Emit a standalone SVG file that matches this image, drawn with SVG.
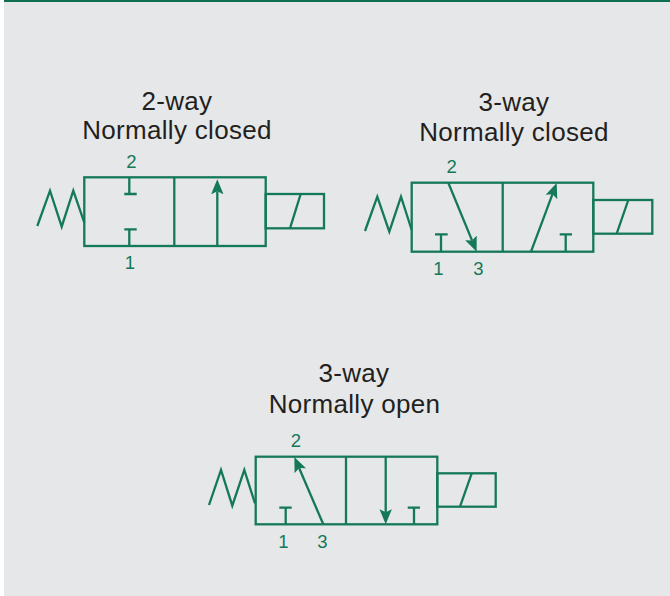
<svg xmlns="http://www.w3.org/2000/svg" width="670" height="596" viewBox="0 0 670 596">
  <style>
    .ln { fill: none; stroke: #14785a; stroke-width: 2.3; stroke-linejoin: miter; stroke-linecap: butt; }
    .title { font-family: "Liberation Sans", Arial, sans-serif; font-size: 26px; fill: #231f20; text-anchor: middle; letter-spacing: 0.3px; }
    .port { font-family: "Liberation Sans", Arial, sans-serif; font-size: 18.5px; fill: #14785a; text-anchor: middle; }
  </style>
  <defs>
    <marker id="ah" markerUnits="userSpaceOnUse" markerWidth="16" markerHeight="14" refX="3" refY="7" orient="auto" viewBox="0 0 16 14">
      <path d="M15,7 L0,0.8 L3,7 L0,13.2 Z" fill="#14785a"/>
    </marker>
  </defs>
  <rect x="0" y="0" width="670" height="596" fill="#ffffff"/>
  <rect x="4" y="0" width="666" height="596" fill="#e6e7e8"/>
  <rect x="4" y="0" width="666" height="2" fill="#0f6e50"/>

  <g id="valve-2way-nc">
    <text class="title" x="177" y="110">2-way</text>
    <text class="title" x="177" y="139">Normally closed</text>
    <polyline class="ln" points="37.3,226 50,190.7 61.7,226.7 73.3,190.7 84.3,222.7"/>
    <rect class="ln" x="84.3" y="177.3" width="181.4" height="68.7"/>
    <line class="ln" x1="174.3" y1="177.3" x2="174.3" y2="246"/>
    <path class="ln" d="M129.3,177.3 V194 M124.3,194 H136.7"/>
    <path class="ln" d="M129.3,246 V229.3 M124.3,229.3 H136.7"/>
    <line class="ln" x1="217.3" y1="246" x2="217.3" y2="191.3" marker-end="url(#ah)"/>
    <rect class="ln" x="265.7" y="194" width="58.3" height="34.3"/>
    <line class="ln" x1="290" y1="228.3" x2="300.7" y2="194"/>
    <text class="port" x="131.5" y="168">2</text>
    <text class="port" x="130" y="269">1</text>
  </g>

  <g id="valve-3way-nc">
    <text class="title" x="514" y="111">3-way</text>
    <text class="title" x="514" y="141">Normally closed</text>
    <polyline class="ln" points="365,231 377.3,196.7 389.3,231.7 401,196.7 411.7,230"/>
    <rect class="ln" x="411.7" y="182.7" width="181.6" height="69"/>
    <line class="ln" x1="502.7" y1="182.7" x2="502.7" y2="251.7"/>
    <path class="ln" d="M441,251.7 V234.3 M435,234.3 H447.7"/>
    <path class="ln" d="M565.7,251.7 V234.3 M559.7,234.3 H572"/>
    <line class="ln" x1="448.3" y1="182.7" x2="472.1" y2="240.6" marker-end="url(#ah)"/>
    <line class="ln" x1="531" y1="251.7" x2="552.5" y2="194.2" marker-end="url(#ah)"/>
    <rect class="ln" x="593.3" y="200" width="59" height="33.7"/>
    <line class="ln" x1="616.7" y1="233.7" x2="628.3" y2="200"/>
    <text class="port" x="451.7" y="173">2</text>
    <text class="port" x="438.3" y="275">1</text>
    <text class="port" x="478.3" y="275">3</text>
  </g>

  <g id="valve-3way-no">
    <text class="title" x="354" y="382">3-way</text>
    <text class="title" x="354.5" y="413">Normally open</text>
    <polyline class="ln" points="209,505 221,470 232.3,505.7 244.3,470 255,503.3"/>
    <rect class="ln" x="255.7" y="456.7" width="181.6" height="67.6"/>
    <line class="ln" x1="346" y1="456.7" x2="346" y2="524.3"/>
    <path class="ln" d="M285.7,524.3 V507.7 M279.3,507.7 H291.7"/>
    <path class="ln" d="M414,524.3 V507.7 M407.7,507.7 H420"/>
    <line class="ln" x1="323.3" y1="524.3" x2="299.1" y2="468" marker-end="url(#ah)"/>
    <line class="ln" x1="385.7" y1="456.7" x2="385.7" y2="512.3" marker-end="url(#ah)"/>
    <rect class="ln" x="437.3" y="473.3" width="58.4" height="33.4"/>
    <line class="ln" x1="460" y1="506.7" x2="471.7" y2="473.3"/>
    <text class="port" x="296" y="446.5">2</text>
    <text class="port" x="283.3" y="547.5">1</text>
    <text class="port" x="322.3" y="547.5">3</text>
  </g>
</svg>
